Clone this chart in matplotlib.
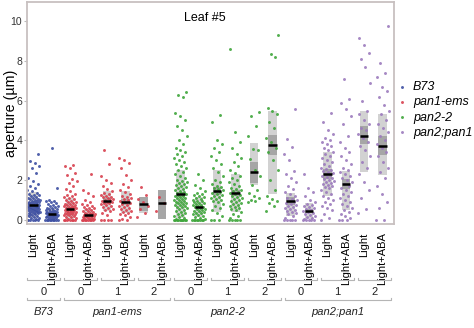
import numpy as np
import matplotlib
matplotlib.use("Agg")
import matplotlib.pyplot as plt
import matplotlib.transforms as mtransforms

plt.rcParams['font.family'] = ['Liberation Sans', 'DejaVu Sans']

# genotype / leaf / treatment layout of the 20 columns
genotypes = ["B73", "pan1-ems", "pan2-2", "pan2;pan1"]
geno_colors = ["#3d4fa2", "#d8414f", "#3fa53b", "#9c7bbd"]
geno_of_col = [0, 0, 1, 1, 1, 1, 1, 1, 2, 2, 2, 2, 2, 2, 3, 3, 3, 3, 3, 3]
leaf_of_pair = ["0", "0", "1", "2", "0", "1", "2", "0", "1", "2"]
treatments = ["Light", "Light+ABA"] * 10

# stomatal aperture (um), one list per column
b73_0_light = [0, 0, 0, 0, 0, 0, 0.05, 0.08, 0.12, 0.15, 0.18, 0.21, 0.24, 0.26, 0.29, 0.31,
               0.33, 0.35, 0.37, 0.39, 0.41, 0.42, 0.44, 0.46, 0.47, 0.49, 0.51, 0.52, 0.54,
               0.55, 0.57, 0.58, 0.6, 0.61, 0.63, 0.64, 0.66, 0.67, 0.69, 0.7, 0.72, 0.73,
               0.75, 0.76, 0.78, 0.8, 0.81, 0.83, 0.85, 0.87, 0.89, 0.91, 0.93, 0.95, 0.97,
               1.0, 1.02, 1.05, 1.08, 1.1, 1.13, 1.16, 1.2, 1.24, 1.28, 1.33, 1.38, 1.45,
               1.52, 1.6, 1.7, 1.82, 1.95, 2.1, 2.35, 2.62, 2.7, 2.85, 2.95, 3.3]
b73_0_aba = [0, 0, 0, 0, 0, 0, 0, 0, 0, 0.04, 0.07, 0.09, 0.11, 0.13, 0.15, 0.16, 0.18,
             0.2, 0.21, 0.23, 0.24, 0.26, 0.27, 0.29, 0.3, 0.32, 0.33, 0.35, 0.36, 0.38,
             0.4, 0.42, 0.44, 0.46, 0.48, 0.5, 0.53, 0.56, 0.59, 0.62, 0.65, 0.68, 0.72,
             0.76, 0.8, 0.85, 0.9, 0.95, 0.98, 1.0, 1.62, 3.6]
pan1_0_light = [0, 0, 0, 0, 0, 0, 0, 0.06, 0.1, 0.14, 0.17, 0.2, 0.23, 0.26, 0.28, 0.3,
                0.32, 0.34, 0.36, 0.38, 0.4, 0.42, 0.44, 0.46, 0.48, 0.5, 0.52, 0.54, 0.56,
                0.58, 0.6, 0.62, 0.64, 0.66, 0.68, 0.7, 0.73, 0.76, 0.79, 0.82, 0.85, 0.88,
                0.92, 0.96, 1.0, 1.05, 1.1, 1.15, 1.2, 1.25, 1.3, 1.45, 1.55, 1.7, 1.85,
                1.95, 2.05, 2.25, 2.35, 2.6, 2.7, 2.75]
pan1_0_aba = [0, 0, 0, 0, 0, 0, 0, 0, 0.05, 0.08, 0.1, 0.12, 0.14, 0.16, 0.18, 0.2, 0.22,
              0.24, 0.26, 0.28, 0.3, 0.32, 0.34, 0.37, 0.4, 0.43, 0.46, 0.5, 0.54, 0.58,
              0.62, 0.66, 0.7, 0.75, 0.8, 0.9, 1.0, 1.2, 1.35, 1.5, 2.3]
pan1_1_light = [0, 0, 0, 0, 0.25, 0.35, 0.45, 0.5, 0.55, 0.6, 0.65, 0.7, 0.75, 0.8, 0.83,
                0.86, 0.9, 0.93, 0.96, 1.0, 1.03, 1.06, 1.1, 1.14, 1.18, 1.22, 1.27, 1.32,
                1.38, 1.45, 1.55, 1.7, 1.85, 2.0, 2.2, 2.8, 3.5]
pan1_1_aba = [0, 0, 0.05, 0.15, 0.25, 0.3, 0.35, 0.4, 0.45, 0.5, 0.55, 0.6, 0.65, 0.7,
              0.75, 0.8, 0.85, 0.9, 0.95, 1.0, 1.05, 1.1, 1.15, 1.2, 1.3, 1.4, 1.5, 1.65,
              1.8, 2.0, 2.25, 2.6, 2.85, 3.0, 3.1]
pan1_2_light = [0.15, 0.35, 0.55, 0.7, 0.9, 1.05, 1.25, 1.65]
pan1_2_aba = [0.45, 0.85, 1.15]
pan2_0_light = [0, 0, 0, 0, 0, 0, 0, 0, 0, 0, 0.05, 0.1, 0.15, 0.2, 0.25, 0.3, 0.35, 0.4,
                0.45, 0.5, 0.55, 0.6, 0.63, 0.66, 0.7, 0.73, 0.76, 0.8, 0.83, 0.86, 0.9,
                0.93, 0.96, 1.0, 1.03, 1.06, 1.1, 1.13, 1.16, 1.2, 1.23, 1.26, 1.3, 1.34,
                1.38, 1.42, 1.46, 1.5, 1.55, 1.6, 1.65, 1.7, 1.75, 1.8, 1.85, 1.9, 1.95,
                2.0, 2.1, 2.2, 2.3, 2.4, 2.5, 2.6, 2.7, 2.8, 2.9, 3.0, 3.1, 3.2, 3.3, 3.4,
                3.5, 3.6, 3.8, 4.0, 4.2, 4.5, 4.7, 5.0, 5.2, 5.4, 6.2, 6.3, 6.45]
pan2_0_aba = [0, 0, 0, 0, 0, 0, 0, 0, 0.05, 0.1, 0.15, 0.2, 0.25, 0.3, 0.33, 0.36, 0.4,
              0.43, 0.46, 0.5, 0.53, 0.56, 0.6, 0.63, 0.66, 0.7, 0.73, 0.76, 0.8, 0.83,
              0.86, 0.9, 0.94, 0.98, 1.02, 1.06, 1.1, 1.15, 1.2, 1.25, 1.3, 1.35, 1.45,
              1.6, 1.75, 2.0, 2.3]
pan2_1_light = [0, 0, 0, 0.2, 0.35, 0.5, 0.6, 0.7, 0.8, 0.9, 0.95, 1.0, 1.05, 1.1, 1.15,
                1.2, 1.25, 1.3, 1.35, 1.4, 1.45, 1.5, 1.55, 1.6, 1.65, 1.7, 1.8, 1.9, 2.0,
                2.2, 2.4, 2.6, 2.8, 3.0, 3.2, 3.4, 3.6, 3.8, 4.0, 4.9, 5.25]
pan2_1_aba = [0, 0, 0, 0, 0, 0.1, 0.2, 0.3, 0.4, 0.5, 0.55, 0.6, 0.65, 0.7, 0.75, 0.8,
              0.85, 0.9, 0.95, 1.0, 1.05, 1.1, 1.15, 1.2, 1.25, 1.3, 1.35, 1.4, 1.45, 1.5,
              1.55, 1.6, 1.7, 1.8, 1.9, 2.0, 2.1, 2.2, 2.35, 2.5, 2.7, 2.9, 3.1, 3.3, 3.6,
              3.9, 4.4, 8.6]
pan2_2_light = [0.9, 0.95, 1.0, 1.1, 1.2, 1.35, 1.5, 1.75, 2.2, 2.5, 3.05, 3.5, 3.55, 4.2,
                4.7, 5.2, 5.45]
pan2_2_aba = [0.45, 0.7, 0.85, 0.95, 1.05, 1.2, 1.5, 2.0, 2.5, 3.0, 3.4, 3.6, 3.9, 4.1,
              4.6, 4.9, 5.3, 5.5, 5.65, 8.2, 8.35, 9.3]
dbl_0_light = [0, 0, 0, 0, 0, 0.1, 0.2, 0.3, 0.35, 0.4, 0.45, 0.5, 0.55, 0.6, 0.65, 0.7,
               0.75, 0.8, 0.85, 0.9, 0.95, 1.0, 1.05, 1.1, 1.2, 1.3, 1.4, 1.55, 1.7, 1.9,
               2.1, 2.3, 2.45, 3.0, 3.3, 3.65, 4.05, 5.6]
dbl_0_aba = [0, 0, 0, 0, 0, 0.05, 0.1, 0.15, 0.2, 0.25, 0.3, 0.35, 0.4, 0.45, 0.5, 0.55,
             0.6, 0.65, 0.7, 0.75, 0.8, 0.9, 1.0, 1.2, 1.4, 1.6, 2.3]
dbl_1_light = [0, 0.1, 0.3, 0.5, 0.6, 0.7, 0.8, 0.9, 1.0, 1.1, 1.2, 1.3, 1.4, 1.5, 1.6,
               1.65, 1.7, 1.75, 1.8, 1.85, 1.9, 1.95, 2.0, 2.05, 2.1, 2.15, 2.2, 2.25, 2.3,
               2.35, 2.4, 2.45, 2.5, 2.55, 2.6, 2.7, 2.8, 2.9, 3.0, 3.1, 3.2, 3.3, 3.4, 3.5,
               3.6, 3.7, 3.8, 3.9, 4.0, 4.1, 4.3, 4.5, 4.9, 5.35]
dbl_1_aba = [0, 0, 0, 0.1, 0.2, 0.3, 0.4, 0.5, 0.6, 0.7, 0.8, 0.9, 1.0, 1.1, 1.2, 1.3, 1.4,
             1.5, 1.6, 1.7, 1.8, 1.9, 2.0, 2.1, 2.2, 2.3, 2.4, 2.5, 2.6, 2.8, 3.0, 3.2,
             3.4, 3.6, 3.9, 4.2, 4.8, 5.2, 5.6, 5.9, 6.1, 7.1]
dbl_2_light = [0.35, 0.55, 1.1, 1.5, 1.9, 2.3, 2.6, 2.9, 3.2, 3.5, 3.7, 3.9, 4.1, 4.3, 4.5,
               4.6, 4.8, 5.0, 5.3, 5.5, 6.0, 6.9, 7.7, 8.1, 8.4, 8.8, 9.15]
dbl_2_aba = [0, 0, 0.6, 0.9, 1.3, 1.7, 2.1, 2.4, 2.6, 2.9, 3.2, 3.4, 3.6, 3.8, 4.0, 4.2,
             4.4, 4.6, 4.8, 5.0, 5.3, 5.5, 5.8, 6.2, 6.5, 6.7, 7.2, 7.4, 7.9, 9.75]

columns = [b73_0_light, b73_0_aba, pan1_0_light, pan1_0_aba, pan1_1_light, pan1_1_aba,
           pan1_2_light, pan1_2_aba, pan2_0_light, pan2_0_aba, pan2_1_light, pan2_1_aba,
           pan2_2_light, pan2_2_aba, dbl_0_light, dbl_0_aba, dbl_1_light, dbl_1_aba,
           dbl_2_light, dbl_2_aba]

# summary bars: mean, spread box (light) and CI box (dark)
means = [0.75, 0.3, 0.57, 0.25, 0.95, 0.9, 0.8, 0.85, 1.3, 0.65, 1.45, 1.35, 2.4, 3.75,
         0.95, 0.45, 2.3, 1.8, 4.2, 3.7]
spread_lo = [0.1, 0.0, 0.05, 0.0, 0.45, 0.35, 0.35, 0.05, 0.1, 0.15, 0.4, 0.4, 1.75, 1.3,
             0.2, 0.05, 1.2, 0.5, 2.4, 2.25]
spread_hi = [1.4, 0.6, 1.1, 0.55, 1.45, 1.45, 1.15, 1.5, 2.5, 1.15, 2.5, 2.3, 3.85, 5.5,
             1.35, 0.85, 3.4, 2.45, 5.5, 5.3]
ci_lo = [0.68, 0.26, 0.5, 0.2, 0.8, 0.75, 0.45, 0.05, 1.17, 0.58, 1.25, 1.2, 1.85, 3.27,
         0.75, 0.35, 2.05, 1.55, 3.8, 3.25]
ci_hi = [0.82, 0.34, 0.64, 0.3, 1.1, 1.05, 1.15, 1.5, 1.43, 0.72, 1.65, 1.5, 2.9, 4.27,
         1.15, 0.55, 2.55, 2.05, 4.7, 4.2]

fig = plt.figure(figsize=(4.74, 3.28), dpi=100)
ax = fig.add_axes([27 / 474, 1 - 224 / 328, 367 / 474, 222 / 328])

half = 0.23
handles = []
for i, vals in enumerate(columns):
    g = geno_of_col[i]
    ax.bar(i, spread_hi[i] - spread_lo[i], bottom=spread_lo[i], width=2 * half,
           color="#d2d2d2", zorder=1)
    ax.bar(i, ci_hi[i] - ci_lo[i], bottom=ci_lo[i], width=2 * half,
           color="#a6a6a6", zorder=1.5)
    n = len(vals)
    jitter = ((np.arange(n) * 0.6180339887) % 1 - 0.5) * 0.7
    sc = ax.scatter(i + jitter, vals, s=4.5, color=geno_colors[g], alpha=0.9,
                    linewidths=0, zorder=2)
    if i in (0, 2, 8, 14):
        sc.set_label(genotypes[g])
        handles.append(sc)
    ax.plot([i - half, i + half], [means[i], means[i]], color="black", lw=1.8,
            solid_capstyle="butt", zorder=3)

ax.set_xlim(-0.35, 19.62)
ax.set_ylim(-0.2, 10.95)
ax.set_yticks([0, 2, 4, 6, 8, 10])
ax.tick_params(axis="y", labelsize=7.5, length=2, color="#bbbbbb", pad=1.5,
               labelcolor="#333333")
ax.set_xticks(range(20))
ax.set_xticklabels(treatments, rotation=90, fontsize=8, va="top")
ax.tick_params(axis="x", length=0, pad=6)
for sp in ax.spines.values():
    sp.set_color("#c8c0c0")
    sp.set_linewidth(1.3)
ax.set_ylabel("aperture (µm)", fontsize=10.3)
ax.yaxis.set_label_coords(-0.025, 0.498)
ax.text(0.484, 0.93, "Leaf #5", transform=ax.transAxes, ha="center", va="center",
        fontsize=9)

# bracket annotations below the x labels
trans = mtransforms.blended_transform_factory(ax.transData, ax.transAxes)
tick_h = 0.01


def bracket(x0, x1, y):
    ax.plot([x0, x0, x1, x1], [y + tick_h, y, y, y + tick_h], color="#b5b5b5", lw=0.8,
            transform=trans, clip_on=False)


for p, leaf in enumerate(leaf_of_pair):
    c0 = 2 * p
    bracket(c0 - 0.33, c0 + 1.45, -0.252)
    ax.text(c0 + 0.55, -0.306, leaf, transform=trans, ha="center", va="center",
            fontsize=8, color="#222222")

for g, name in enumerate(genotypes):
    cols = [i for i, gg in enumerate(geno_of_col) if gg == g]
    bracket(cols[0] - 0.33, cols[-1] + 0.45, -0.342)
    ax.text((cols[0] + cols[-1]) / 2 + 0.05, -0.396, name, transform=trans,
            ha="center", va="center", fontsize=8, style="italic", color="#222222")

leg = fig.legend(handles=handles, loc="upper left", bbox_to_anchor=(0.842, 0.752),
                 frameon=False, fontsize=9, handlelength=0.5, handletextpad=0.6,
                 labelspacing=0.25, borderpad=0, borderaxespad=0, markerscale=1.0)
for t in leg.get_texts():
    t.set_fontstyle("italic")

fig.savefig("out.png", dpi=100)
